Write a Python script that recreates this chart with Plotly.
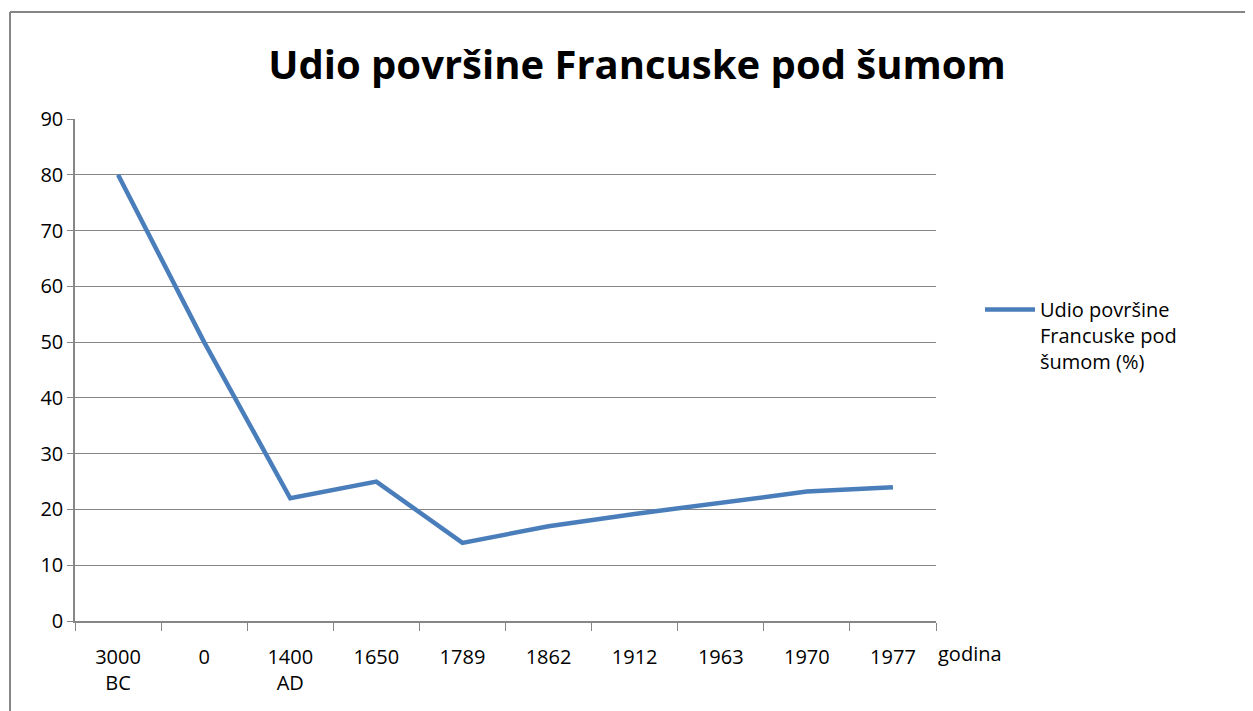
import plotly.graph_objects as go

categories = ["3000<br>BC", "0", "1400<br>AD", "1650", "1789", "1862", "1912", "1963", "1970", "1977"]
values = [80, 50, 22, 25, 14, 17, 19.2, 21.2, 23.2, 24]
series_name = "Udio površine<br>Francuske pod<br>šumom (%)"
title_text = "Udio površine Francuske pod šumom"
x_title = "godina"
y_ticks = [0, 10, 20, 30, 40, 50, 60, 70, 80, 90]

O = 8  # page body offset
W, H = 1253 - O, 711 - O
L, R, T, B = 75 - O, 317, 119 - O, 90
pw, ph = W - L - R, H - T - B

def px_x(x):
    return (x - O - L) / pw

def px_y(y):
    return (H - B - (y - O)) / ph

FONT = "Open Sans, sans-serif"
fig = go.Figure()
fig.add_trace(go.Scatter(
    x=categories, y=values, mode="lines", name=series_name,
    line=dict(color="#4A7EBB", width=4.5),
    showlegend=True,
))

fig.update_layout(
    width=W, height=H,
    margin=dict(l=L, r=R, t=T, b=B),
    paper_bgcolor="white", plot_bgcolor="white",
    title=dict(text="<b>" + title_text + "</b>", x=px_x(637), xref="paper", xanchor="center",
               y=1 - (65 - O) / H, yanchor="middle",
               font=dict(family=FONT, size=40, color="black")),
    xaxis=dict(
        type="category", tickson="boundaries", ticks="outside", ticklen=8, tickcolor="#868686",
        showline=True, linecolor="#868686", linewidth=1.5, showgrid=False,
        tickfont=dict(family=FONT, size=20, color="black"),
        ticklabelstandoff=17,
        range=[-0.5, 9.5],
    ),
    yaxis=dict(
        range=[0, 90], tickvals=y_ticks, ticks="outside", ticklen=6, tickcolor="#868686",
        showline=True, linecolor="#868686", linewidth=1.5,
        showgrid=True, gridcolor="#868686", gridwidth=1.3,
        tickfont=dict(family=FONT, size=20, color="black"),
        zeroline=False,
    ),
    legend=dict(
        x=px_x(980), y=px_y(290), xanchor="left", yanchor="top",
        font=dict(family=FONT, size=20, color="black"),
        bgcolor="rgba(0,0,0,0)", itemwidth=50, valign="top",
    ),
    annotations=[dict(
        text=x_title, x=px_x(936), y=px_y(653), xref="paper", yref="paper",
        xanchor="left", yanchor="middle", showarrow=False,
        font=dict(family=FONT, size=20, color="black"),
    )],
    shapes=[
        dict(type="line", xref="paper", yref="paper", x0=px_x(10), x1=px_x(1260), y0=px_y(12), y1=px_y(12),
             line=dict(color="#868686", width=2)),
        dict(type="line", xref="paper", yref="paper", x0=px_x(10), x1=px_x(10), y0=px_y(12), y1=px_y(720),
             line=dict(color="#868686", width=2)),
    ],
)

fig.write_html("out.html")
